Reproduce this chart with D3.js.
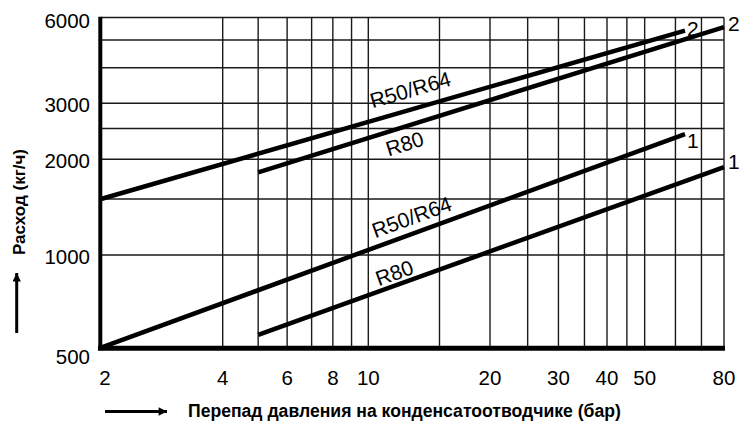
<!DOCTYPE html>
<html>
<head>
<meta charset="utf-8">
<script src="https://cdn.jsdelivr.net/npm/d3@7/dist/d3.min.js"></script>
<style>
  html, body { margin: 0; padding: 0; background: #fff; }
  svg { display: block; font-family: "Liberation Sans", Arial, Helvetica, sans-serif; }
</style>
</head>
<body>
<svg id="chart" width="740" height="421"></svg>
<script>
// Pressure drop across the steam trap (bar) vs. discharge capacity (kg/h)
const xTickValues = [2, 4, 6, 8, 10, 20, 30, 40, 50, 80];
const xGridValues = [4, 5, 6, 7, 8, 9, 10, 15, 20, 25, 30, 35, 40, 45, 50, 60, 70, 80];
const yTickValues = [500, 1000, 2000, 3000, 6000];
const yGridValues = [1000, 1500, 2000, 2500, 3000, 4000, 5000, 6000];

// Capacity lines: model name, curve number, start and end points
const seriesNames = ["R50/R64", "R80", "R50/R64", "R80"];
const curveIds = ["2", "2", "1", "1"];
const startP = [2, 5, 2, 5];
const startQ = [1500, 1820, 500, 550];
const endP = [63.5, 80, 63.5, 80];
const endQ = [5400, 5550, 2400, 1890];

const xTitle = "Перепад давления на конденсатоотводчике (бар)";
const yTitle = "Расход (кг/ч)";

const svg = d3.select("#chart");

// Logarithmic axes of the printed grid (piecewise to follow the sheet's spacing)
const x = d3.scaleLog().domain([2, 4, 10, 20, 80]).range([101, 222.7, 368.3, 490, 724]);
const y = d3.scaleLog().domain([500, 1000, 3000, 6000]).range([347.7, 255, 103.3, 17.5]);

const x0 = x(2), x1 = x(80), y0 = y(500), y1 = y(6000);

// Grid
const grid = svg.append("g").attr("stroke", "#1a1a1a").attr("stroke-width", 1.4);
grid.selectAll("line.v").data(xGridValues).join("line")
  .attr("class", "v")
  .attr("x1", d => x(d)).attr("x2", d => x(d))
  .attr("y1", y1).attr("y2", y0);
grid.selectAll("line.h").data(yGridValues).join("line")
  .attr("class", "h")
  .attr("x1", x0).attr("x2", x1)
  .attr("y1", d => y(d)).attr("y2", d => y(d));

// Heavy axis lines
svg.append("line").attr("x1", x0 - 0.7).attr("x2", x0 - 0.7).attr("y1", y1 - 0.7).attr("y2", y0 + 2.5)
  .attr("stroke", "#000").attr("stroke-width", 4);
svg.append("line").attr("x1", x0 - 3).attr("x2", x1 + 1).attr("y1", y0 + 0.5).attr("y2", y0 + 0.5)
  .attr("stroke", "#000").attr("stroke-width", 5);

// Tick labels
svg.append("g").selectAll("text").data(xTickValues).join("text")
  .attr("x", d => x(d) + (d === 2 ? 4 : 0))
  .attr("y", 385)
  .attr("text-anchor", "middle")
  .attr("font-size", 20.5)
  .attr("fill", "#000")
  .text(d => d);

svg.append("g").selectAll("text").data(yTickValues).join("text")
  .attr("x", 90)
  .attr("y", d => y(d) + (d === 500 ? 9 : d === 6000 ? 3 : 1.5))
  .attr("dy", "0.35em")
  .attr("text-anchor", "end")
  .attr("font-size", 20.5)
  .attr("fill", "#000")
  .text(d => d);

// Capacity lines
const lines = seriesNames.map((name, i) => ({
  name, id: curveIds[i],
  p: [[startP[i], startQ[i]], [endP[i], endQ[i]]]
}));

svg.append("g").selectAll("path").data(lines).join("path")
  .attr("d", d => d3.line().x(p => x(p[0])).y(p => y(p[1]))(d.p))
  .attr("fill", "none")
  .attr("stroke", "#000")
  .attr("stroke-width", 4.5);

// Curve numbers at line ends
const idOffsets = [[2, -2], [4, -4], [2, 7], [4, -5]];
svg.append("g").selectAll("text").data(lines).join("text")
  .attr("x", (d, i) => x(d.p[1][0]) + idOffsets[i][0])
  .attr("y", (d, i) => y(d.p[1][1]) + idOffsets[i][1])
  .attr("dy", "0.35em")
  .attr("font-size", 21)
  .attr("fill", "#000")
  .text(d => d.id);

// Model names along the lines
const labelAt = [12.7, 12.3, 12.8, 11.6];
const labelShift = [-20, 17, -17, -13];
svg.append("g").selectAll("text").data(lines).join("text")
  .attr("transform", (d, i) => {
    const ax = x(d.p[0][0]), ay = y(d.p[0][1]);
    const bx = x(d.p[1][0]), by = y(d.p[1][1]);
    const cx = x(labelAt[i]);
    const cy = ay + (by - ay) * (cx - ax) / (bx - ax) + labelShift[i];
    const ang = Math.atan2(by - ay, bx - ax) * 180 / Math.PI;
    return `translate(${cx},${cy}) rotate(${ang})`;
  })
  .attr("text-anchor", "middle")
  .attr("dy", "0.35em")
  .attr("font-size", 21)
  .attr("fill", "#000")
  .text(d => d.name);

// Axis titles with direction arrows
svg.append("defs").append("marker")
  .attr("id", "arrow")
  .attr("viewBox", "0 0 10 10")
  .attr("refX", 10).attr("refY", 5)
  .attr("markerWidth", 8).attr("markerHeight", 2.8)
  .attr("markerUnits", "strokeWidth")
  .attr("orient", "auto")
  .append("path").attr("d", "M0,0 L10,5 L0,10 Z").attr("fill", "#000");

svg.append("line").attr("x1", 105).attr("x2", 167).attr("y1", 411.5).attr("y2", 411.5)
  .attr("stroke", "#000").attr("stroke-width", 3).attr("marker-end", "url(#arrow)");
svg.append("text")
  .attr("x", 188).attr("y", 416.5)
  .attr("font-size", 17.6).attr("font-weight", "bold").attr("fill", "#000")
  .text(xTitle);

svg.append("line").attr("x1", 16.7).attr("x2", 16.7).attr("y1", 333).attr("y2", 273)
  .attr("stroke", "#000").attr("stroke-width", 3).attr("marker-end", "url(#arrow)");
svg.append("text")
  .attr("transform", "translate(25,202) rotate(-90)")
  .attr("text-anchor", "middle")
  .attr("font-size", 17).attr("font-weight", "bold").attr("fill", "#000")
  .text(yTitle);
</script>
</body>
</html>
